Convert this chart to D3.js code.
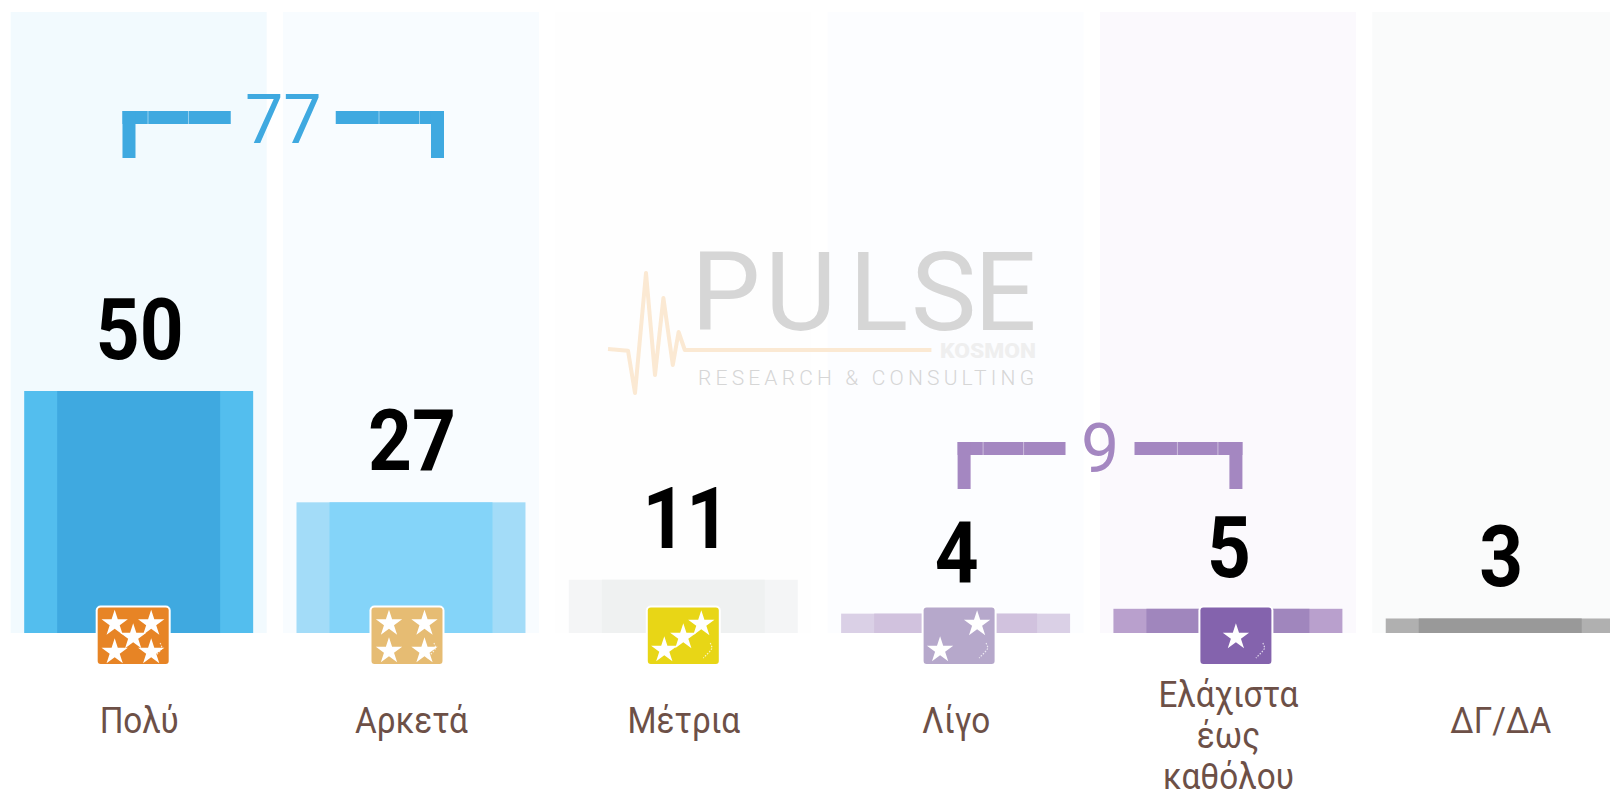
<!DOCTYPE html>
<html>
<head>
<meta charset="utf-8">
<script src="https://cdn.jsdelivr.net/npm/d3@7"></script>
<style>
  html, body { margin: 0; padding: 0; background: #fff; overflow: hidden; }
  svg { display: block; }
  text { font-family: Roboto, sans-serif; }
</style>
</head>
<body>
<svg id="chart" width="1610" height="795"></svg>
<script>
// values
const categories = ['Πολύ', 'Αρκετά', 'Μέτρια', 'Λίγο', 'Ελάχιστα έως καθόλου', 'ΔΓ/ΔΑ'];
const values = [50, 27, 11, 4, 5, 3];
const starCounts = [5, 4, 3, 2, 1, 0];
const groupTotals = [77, 9];
const groupFirst = ['Πολύ', 'Λίγο'];
const groupLast = ['Αρκετά', 'Ελάχιστα έως καθόλου'];

// colours
const panelColors = ['#f2fafe', '#f8fcff', '#fefefe', '#fcfdff', '#fbf9fd', '#fafbfb'];
const barInner = ['#3fa9e0', '#84d4f9', '#eff1f1', '#d1c2de', '#a086bd', '#999999'];
const barSide = ['#53beee', '#a3dcf8', '#f4f5f6', '#dad0e6', '#b9a0cd', '#b0b0b0'];
const iconColors = ['#e78425', '#e6bc73', '#e8d616', '#b6a8cb', '#8463ad'];
const groupColors = ['#3fa9e0', '#a487c1'];

// star layout inside a badge, by number of stars
const starSpots = {
  5: [[-18.5, -12.5], [18, -12.5], [0, 1], [-18.5, 16], [18, 16]],
  4: [[-18, -12.5], [17.5, -12.5], [-18, 15], [17.5, 15]],
  3: [[-19, 14], [0, 1], [18, -12]],
  2: [[-19, 14], [18, -12]],
  1: [[0, 1]]
};
// the badges are not quite centred on their bars
const iconShift = [-5.5, -4, 0, 3.5, 8];

const baseline = 633, panelTop = 12;
const barPad = 13.5, barSideW = 33;

const svg = d3.select('#chart');

const x = d3.scaleBand()
  .domain(categories)
  .range([10.7, 10.7 + 6 * 272.3 - 16.3])
  .paddingInner(0.06);

const y = d3.scaleLinear().domain([0, 50]).range([baseline, 391]);

// background panels
svg.selectAll('.panel')
  .data(categories)
  .join('rect')
  .attr('class', 'panel')
  .attr('x', d => x(d))
  .attr('y', panelTop)
  .attr('width', x.bandwidth())
  .attr('height', baseline - panelTop)
  .attr('fill', (d, i) => panelColors[i]);

// logo watermark
const logo = svg.append('g');
const pulsePoints = [[608, 349], [628, 350.7], [635, 393], [646, 273], [655, 375], [663.4, 298], [672.8, 365], [678.6, 332], [684.8, 350], [931.4, 350]];
logo.append('path')
  .attr('d', d3.line()(pulsePoints))
  .attr('fill', 'none')
  .attr('stroke', '#fbe9d3')
  .attr('stroke-width', 4)
  .attr('stroke-linejoin', 'round');
logo.append('text')
  .attr('x', '691 765 849 911 974')
  .attr('y', 330)
  .attr('font-size', 110)
  .attr('font-weight', 400)
  .attr('fill', '#d6d6d6')
  .text('PULSE');
logo.append('text')
  .attr('x', 940)
  .attr('y', 358)
  .attr('font-size', 20)
  .attr('font-weight', 900)
  .attr('fill', '#efefef')
  .attr('textLength', 96)
  .attr('lengthAdjust', 'spacingAndGlyphs')
  .text('KOSMON');
logo.append('text')
  .attr('x', 698)
  .attr('y', 385)
  .attr('font-size', 21)
  .attr('font-weight', 300)
  .attr('fill', '#d6d6d6')
  .attr('textLength', 336)
  .text('RESEARCH & CONSULTING');

// bars: outer lighter rect, darker middle
svg.selectAll('.bar-side')
  .data(categories)
  .join('rect')
  .attr('class', 'bar-side')
  .attr('x', d => x(d) + barPad)
  .attr('y', (d, i) => y(values[i]))
  .attr('width', x.bandwidth() - 2 * barPad)
  .attr('height', (d, i) => baseline - y(values[i]))
  .attr('fill', (d, i) => barSide[i]);

svg.selectAll('.bar-inner')
  .data(categories)
  .join('rect')
  .attr('class', 'bar-inner')
  .attr('x', d => x(d) + barPad + barSideW)
  .attr('y', (d, i) => y(values[i]))
  .attr('width', x.bandwidth() - 2 * (barPad + barSideW))
  .attr('height', (d, i) => baseline - y(values[i]))
  .attr('fill', (d, i) => barInner[i]);

// value labels
svg.selectAll('.value')
  .data(categories)
  .join('text')
  .attr('class', 'value')
  .attr('transform', (d, i) => `translate(${x(d) + x.bandwidth() / 2 + (values[i] === 11 ? 3 : 1)},${y(values[i]) - 32}) scale(0.89,1)`)
  .attr('text-anchor', 'middle')
  .attr('font-size', 86)
  .attr('font-weight', 700)
  .attr('fill', '#000')
  .text((d, i) => values[i]);

// star badges
const star = d3.symbol().type(d3.symbolStar).size(215);
const badges = svg.selectAll('.badge')
  .data(categories.filter((d, i) => starCounts[i] > 0))
  .join('g')
  .attr('class', 'badge')
  .attr('transform', (d, i) => `translate(${x(d) + x.bandwidth() / 2 + iconShift[i]},636)`);

badges.append('rect')
  .attr('x', -37.5).attr('y', -30.5)
  .attr('width', 75).attr('height', 59.5)
  .attr('rx', 5)
  .attr('fill', '#fff');
badges.append('rect')
  .attr('x', -35.5).attr('y', -28.5)
  .attr('width', 71).attr('height', 56.5)
  .attr('rx', 3)
  .attr('fill', (d, i) => iconColors[i]);
badges.selectAll('.star')
  .data((d, i) => starSpots[starCounts[i]])
  .join('path')
  .attr('class', 'star')
  .attr('d', star)
  .attr('transform', d => `translate(${d[0]},${d[1]})`)
  .attr('fill', '#fff');
// little sparkle in the lower right corner of each badge
badges.append('path')
  .attr('d', 'M27,7 l2,5 l-3,4 l-3,3 l-3,3')
  .attr('fill', 'none')
  .attr('stroke', '#fff')
  .attr('stroke-opacity', 0.75)
  .attr('stroke-width', 1.2)
  .attr('stroke-dasharray', '1.5 1.5');

// category labels, wrapped on spaces
const labels = svg.selectAll('.label')
  .data(categories)
  .join('g')
  .attr('class', 'label')
  .attr('transform', d => `translate(${x(d) + x.bandwidth() / 2 + 0.5},0)`);
labels.selectAll('text')
  .data(d => d.split(' ').map((w, j, all) => ({ w: w, base: all.length > 1 ? 707 + j * 41 : 733 })))
  .join('text')
  .attr('transform', d => `translate(0,${d.base}) scale(0.9,1)`)
  .attr('text-anchor', 'middle')
  .attr('font-size', 37)
  .attr('fill', '#6d5047')
  .text(d => d.w);

// group brackets
const bracketLayout = [
  { left: -16.2, right: 33, top: 111 },
  { left: 2, right: 14.5, top: 442 }
];
const thick = 13, drop = 47, seam1 = 25, seam2 = 65.5;

groupTotals.forEach((total, i) => {
  const lay = bracketLayout[i];
  const x0 = x(groupFirst[i]) + x.bandwidth() / 2 + lay.left;
  const x1 = x(groupLast[i]) + x.bandwidth() / 2 + lay.right;
  const mid = (x0 + x1) / 2;
  const half = i === 0 ? 52.5 : 34.5;
  const g = svg.append('g').attr('fill', groupColors[i]);

  [[x0, mid - half, x0, 1], [x1, mid + half, x1 - thick, -1]].forEach(side => {
    const a = Math.min(side[0], side[1]);
    const b = Math.max(side[0], side[1]);
    g.append('rect').attr('x', a).attr('y', lay.top).attr('width', b - a).attr('height', thick);
    g.append('rect').attr('x', side[2]).attr('y', lay.top).attr('width', thick).attr('height', drop);
    // faint joins between the pieces
    [seam1, seam2].forEach(s => {
      g.append('rect')
        .attr('x', side[0] + side[3] * s)
        .attr('y', lay.top)
        .attr('width', 1)
        .attr('height', thick)
        .attr('fill', '#fff')
        .attr('fill-opacity', 0.45);
    });
  });

  g.append('text')
    .attr('x', mid)
    .attr('y', i === 0 ? 143 : 472)
    .attr('text-anchor', 'middle')
    .attr('font-size', 68)
    .attr('font-weight', 400)
    .text(total);
});
</script>
</body>
</html>
